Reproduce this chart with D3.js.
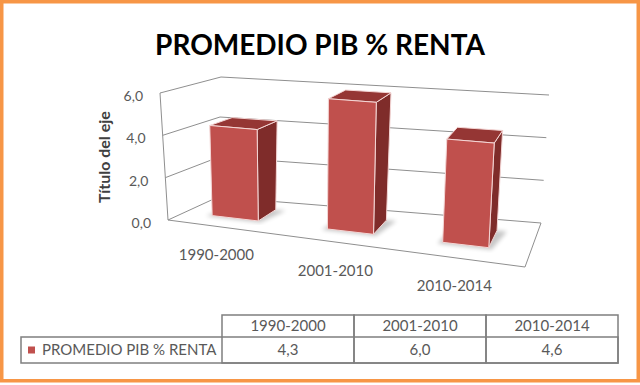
<!DOCTYPE html>
<html>
<head>
<meta charset="utf-8">
<script src="https://cdn.jsdelivr.net/npm/d3@7"></script>
<style>
  body { margin: 0; background: #fff; }
  svg { display: block; font-family: Lato, "Open Sans", sans-serif; }
</style>
</head>
<body>
<svg id="chart" width="640" height="385"></svg>
<script>
   // data
   var categories = ["1990-2000", "2001-2010", "2010-2014"];
   var seriesName = "PROMEDIO PIB % RENTA";
   var values = [4.3, 6.0, 4.6];
   var yTicks = [0, 2, 4, 6];

   var svg = d3.select("#chart");
   var fmt = d3.formatLocale({decimal: ",", thousands: ".", grouping: [3], currency: ["", ""]}).format(".1f");

   // corners of the 3d box on screen, keyed u(left/right) v(bottom/top) w(front/back)
   var box = {
      "000": [168, 220], "010": [160, 93],
      "001": [218, 197], "011": [221, 77],
      "100": [525, 267], "110": [534, 124],
      "101": [541, 223], "111": [549, 95]
   };

   function lerp(a, b, t) { return [a[0] + (b[0] - a[0]) * t, a[1] + (b[1] - a[1]) * t]; }

   function project(u, v, w) {
      var f0 = lerp(lerp(box["000"], box["100"], u), lerp(box["010"], box["110"], u), v);
      var b0 = lerp(lerp(box["001"], box["101"], u), lerp(box["011"], box["111"], u), v);
      return lerp(f0, b0, w);
   }

   var x = d3.scaleBand().domain(categories).range([0, 1])
      .paddingInner(0.6).paddingOuter(0.3).align(0.4);
   var y = d3.scaleLinear().domain([0, 6]).range([0, 1]);
   var depth = [0.33, 0.74];

   var line = d3.line();

   // frame
   svg.append("rect")
      .attr("x", 1.75).attr("y", 1.75)
      .attr("width", 636.5).attr("height", 379)
      .attr("fill", "#fff")
      .attr("stroke", "#f79646")
      .attr("stroke-width", 3.5);

   // title
   svg.append("text")
      .attr("x", 320).attr("y", 55)
      .attr("text-anchor", "middle")
      .attr("font-size", 28)
      .attr("font-weight", "bold")
      .attr("fill", "#000")
      .text(seriesName);

   var walls = svg.append("g")
      .attr("fill", "none")
      .attr("stroke", "#8f8f8f")
      .attr("stroke-width", 1);

   // back wall gridlines
   walls.selectAll(".gback")
      .data(yTicks)
      .enter()
      .append("path")
      .attr("d", function(d) { return line([project(0, y(d), 1), project(1, y(d), 1)]); });

   // left wall gridlines
   walls.selectAll(".gleft")
      .data(yTicks)
      .enter()
      .append("path")
      .attr("d", function(d) { return line([project(0, y(d), 0), project(0, y(d), 1)]); });

   // left wall front edge + floor outline
   walls.append("path").attr("d", line([project(0, 1, 0), project(0, 0, 0)]));
   walls.append("path").attr("d", line([project(0, 0, 0), project(1, 0, 0), project(1, 0, 1)]));

   // shadows
   var defs = svg.append("defs");
   defs.append("filter").attr("id", "blur")
      .append("feGaussianBlur").attr("stdDeviation", 2);

   var bars = categories.map(function(c, i) {
      return {cat: c, val: values[i], u0: x(c), u1: x(c) + x.bandwidth(), v: y(values[i])};
   });

   svg.append("g").selectAll("path")
      .data(bars)
      .enter()
      .append("path")
      .attr("d", function(d) {
         return line([project(d.u0 - 0.012, 0, depth[0] - 0.04), project(d.u1 + 0.01, 0, depth[0] - 0.04),
                      project(d.u1 + 0.03, 0, depth[1]), project(d.u0, 0, depth[1])]) + "Z";
      })
      .attr("fill", "#000")
      .attr("opacity", 0.22)
      .attr("filter", "url(#blur)");

   // bars
   var barG = svg.append("g").selectAll("g")
      .data(bars)
      .enter()
      .append("g")
      .attr("stroke", "#f4d6d5")
      .attr("stroke-width", 1)
      .attr("stroke-linejoin", "round");

   barG.append("path")   // right side
      .attr("fill", "#7f2c2a")
      .attr("d", function(d) {
         return line([project(d.u1, 0, depth[0]), project(d.u1, 0, depth[1]),
                      project(d.u1, d.v, depth[1]), project(d.u1, d.v, depth[0])]) + "Z";
      });

   barG.append("path")   // top
      .attr("fill", "#953634")
      .attr("d", function(d) {
         return line([project(d.u0, d.v, depth[0]), project(d.u1, d.v, depth[0]),
                      project(d.u1, d.v, depth[1]), project(d.u0, d.v, depth[1])]) + "Z";
      });

   barG.append("path")   // front
      .attr("fill", "#c0504d")
      .attr("d", function(d) {
         return line([project(d.u0, 0, depth[0]), project(d.u1, 0, depth[0]),
                      project(d.u1, d.v, depth[0]), project(d.u0, d.v, depth[0])]) + "Z";
      });

   // value axis labels
   svg.append("g").selectAll("text")
      .data(yTicks)
      .enter()
      .append("text")
      .attr("x", function(d) { return project(0, y(d), 0)[0] - 17; })
      .attr("y", function(d) { return project(0, y(d), 0)[1] + 3; })
      .attr("dy", "0.35em")
      .attr("text-anchor", "end")
      .attr("font-size", 14)
      .attr("fill", "#595959")
      .text(function(d) { return fmt(d); });

   svg.append("text")
      .attr("transform", "translate(110,157) rotate(-90)")
      .attr("text-anchor", "middle")
      .attr("font-size", 16)
      .attr("font-weight", "bold")
      .attr("fill", "#404040")
      .text("Título del eje");

   // category labels
   svg.append("g").selectAll("text")
      .data(bars)
      .enter()
      .append("text")
      .attr("x", function(d) { return project((d.u0 + d.u1) / 2, 0, 0)[0] - 4; })
      .attr("y", function(d) { return project((d.u0 + d.u1) / 2, 0, 0)[1] + 28; })
      .attr("dy", "0.35em")
      .attr("text-anchor", "middle")
      .attr("font-size", 15)
      .attr("fill", "#595959")
      .text(function(d) { return d.cat; });

   // data table
   var tx = d3.scaleBand().domain(categories).range([222, 618]);
   var rowTop = 315, rowMid = 337, rowBot = 363, tableLeft = 21;
   var table = svg.append("g");

   table.selectAll("rect")
      .data(categories)
      .enter()
      .append("rect")
      .attr("x", function(d) { return tx(d); })
      .attr("y", rowTop)
      .attr("width", tx.bandwidth())
      .attr("height", rowBot - rowTop)
      .attr("fill", "none")
      .attr("stroke", "#7f7f7f")
      .attr("stroke-width", 1.5);

   table.append("rect")
      .attr("x", tableLeft).attr("y", rowMid)
      .attr("width", 618 - tableLeft).attr("height", rowBot - rowMid)
      .attr("fill", "none")
      .attr("stroke", "#7f7f7f")
      .attr("stroke-width", 1.5);

   table.selectAll(".head")
      .data(categories)
      .enter()
      .append("text")
      .attr("x", function(d) { return tx(d) + tx.bandwidth() / 2; })
      .attr("y", (rowTop + rowMid) / 2)
      .attr("dy", "0.35em")
      .attr("text-anchor", "middle")
      .attr("font-size", 15)
      .attr("fill", "#595959")
      .text(function(d) { return d; });

   table.selectAll(".val")
      .data(values)
      .enter()
      .append("text")
      .attr("x", function(d, i) { return tx(categories[i]) + tx.bandwidth() / 2; })
      .attr("y", (rowMid + rowBot) / 2)
      .attr("dy", "0.35em")
      .attr("text-anchor", "middle")
      .attr("font-size", 15)
      .attr("fill", "#595959")
      .text(function(d) { return fmt(d); });

   table.append("rect")
      .attr("x", 28).attr("y", 346.5)
      .attr("width", 7).attr("height", 7)
      .attr("fill", "#c0504d");

   table.append("text")
      .attr("x", 42).attr("y", (rowMid + rowBot) / 2)
      .attr("dy", "0.35em")
      .attr("font-size", 15)
      .attr("fill", "#595959")
      .text(seriesName);
</script>
</body>
</html>
